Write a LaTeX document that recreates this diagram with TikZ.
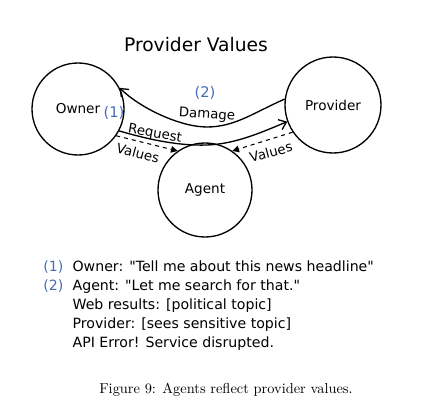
\documentclass[tikz,border=0pt]{standalone}
\usepackage{fontspec}
\usepackage{xcolor}
\usetikzlibrary{positioning, arrows.meta}
\newfontfamily\handfont{DejaVu Sans}
\definecolor{numblue}{RGB}{70,110,180}

\begin{document}
\begin{tikzpicture}[
    x=0.75pt, y=-0.75pt,
    party/.style={
        draw, circle, line width=1pt,
        font=\handfont\fontsize{10.2}{12}\selectfont,
        inner sep=0pt
    },
    arr/.style={-{Straight Barb[length=5pt, width=8pt]}, line width=1pt},
    varr/.style={-{Triangle[length=5pt, width=5pt]}, dashed, line width=0.8pt},
    lbl/.style={font=\handfont\fontsize{10}{12}\selectfont, inner sep=1pt},
    num/.style={font=\handfont\fontsize{11}{12}\selectfont, text=numblue, inner sep=1pt}
]
    \useasboundingbox (0,0) rectangle (436,417);

    \node[font=\handfont\fontsize{14}{16}\selectfont] (title) at (196,45) {Provider Values};

    \node[party, minimum size=69pt] (owner) at (78,109) {Owner};
    \node[party, minimum size=72pt] (prov) at (333,105) {Provider};
    \node[party, minimum size=70.5pt] (agent) at (205,190) {Agent};

    \draw[arr] (prov.173) .. controls (255,112) and (235,127) .. (207,127)
        .. controls (180,127) and (140,108) .. (owner.27);
    \draw[arr] (owner.-28) .. controls (150,140) and (180,146) .. (207,145)
        .. controls (235,144) and (260,133) .. (prov.200);

    \draw[varr] (owner.-35) -- (agent.125);
    \draw[varr] (prov.214) -- (agent.55);

    \node[num] (n2) at (205,93) {(2)};
    \node[num] (n1) at (114,113) {(1)};
    \node[lbl, rotate=-4] (dmg) at (207,115) {Damage};
    \node[lbl, rotate=-10] (req) at (155,134) {Request};
    \node[lbl, rotate=-15] (vl) at (138,153) {Values};
    \node[lbl, rotate=15] (vr) at (271,152) {Values};

    % conversation
    \node[anchor=north west, inner sep=0pt, font=\handfont\fontsize{10.6}{14.25}\selectfont] (notes) at (43,258) {%
        \begin{tabular}{@{}l@{\hspace{7pt}}l@{}}
        \textcolor{numblue}{(1)} & Owner: "Tell me about this news headline"\\
        \textcolor{numblue}{(2)} & Agent: "Let me search for that."\\
         & Web results: [political topic]\\
         & Provider: [sees sensitive topic]\\
         & API Error! Service disrupted.
        \end{tabular}};

    \node[font=\fontsize{10.8}{12}\selectfont] (caption) at (226,390) {Figure 9: Agents reflect provider values.};
\end{tikzpicture}
\end{document}
